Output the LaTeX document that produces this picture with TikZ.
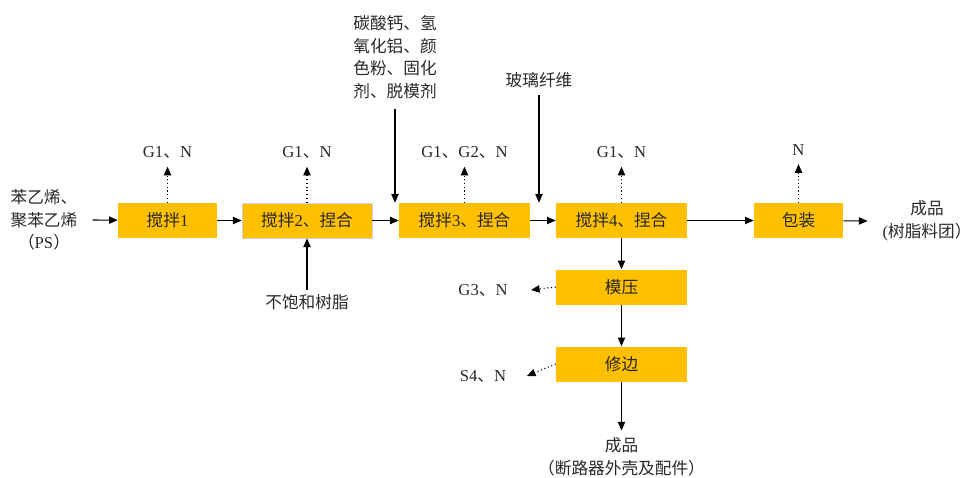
\documentclass[tikz,border=0pt]{standalone}
\usepackage{fontspec}
\setmainfont{Liberation Serif}
\newfontfamily\zhfont{Noto Sans CJK SC}
\newcommand{\zh}[1]{{\zhfont #1}}
\usetikzlibrary{arrows.meta}
\definecolor{procfill}{RGB}{255,192,0}
\definecolor{inkgray}{RGB}{40,40,40}

\begin{document}
\begin{tikzpicture}[x=0.75pt,y=-0.75pt,
    every node/.style={font=\fontsize{12.5}{17}\selectfont, text=inkgray},
    proc/.style={fill=procfill, inner sep=0pt, minimum height=26.25pt},
    flow/.style={-{Triangle[length=6.5pt,width=5.5pt]}, line width=0.8pt},
    emit/.style={flow, dotted}]
    \useasboundingbox (0,0) rectangle (972,478);

    % Process boxes
    \node[proc, minimum width=74.25pt] (stir1) at (167.5,220.5) {\zh{搅拌}1};
    \node[proc, minimum width=97.5pt, draw=gray!35, line width=0.6pt] (stir2) at (307,220.5) {\zh{搅拌}2\zh{、捏合}};
    \node[proc, minimum width=98.25pt] (stir3) at (464.5,220.5) {\zh{搅拌}3\zh{、捏合}};
    \node[proc, minimum width=98.25pt] (stir4) at (621.5,220.5) {\zh{搅拌}4\zh{、捏合}};
    \node[proc, minimum width=66.75pt] (pack) at (798.5,220.5) {\zh{包装}};
    \node[proc, minimum width=98.25pt] (mold) at (621.5,287) {\zh{模压}};
    \node[proc, minimum width=98.25pt] (trim) at (621.5,364) {\zh{修边}};

    % Inputs and outputs
    \node[align=center] (src) at (44,220) {\zh{苯乙烯、}\\\zh{聚苯乙烯}\\\zh{（}PS\zh{）}};
    \node (resin) at (307,302) {\zh{不饱和树脂}};
    \node[align=center] (additive) at (395,57) {\zh{碳酸钙、氢}\\\zh{氧化铝、颜}\\\zh{色粉、固化}\\\zh{剂、脱模剂}};
    \node (glass) at (539,80) {\zh{玻璃纤维}};
    \node[align=center, inner sep=0pt] (prod1) at (927,221) {\zh{成品}\\(\zh{树脂料团）}};
    \node[align=center] (prod2) at (621.5,457) {\zh{成品}\\\zh{（断路器外壳及配件）}};

    % Emissions
    \node (g1) at (167.5,152) {G1\zh{、}N};
    \node (g2) at (307,152) {G1\zh{、}N};
    \node (g3) at (464.5,152) {G1\zh{、}G2\zh{、}N};
    \node (g4) at (621.5,152) {G1\zh{、}N};
    \node (gp) at (798.5,150) {N};
    \node (g5) at (483,290) {G3\zh{、}N};
    \node (s4) at (483,376) {S4\zh{、}N};

    % Main flow
    \draw[flow] ([xshift=8pt]src.east) -- (stir1);
    \draw[flow] (stir1) -- (stir2);
    \draw[flow] (stir2) -- (stir3);
    \draw[flow] (stir3) -- (stir4);
    \draw[flow] (stir4) -- (pack);
    \draw[flow] (pack) -- ([xshift=-11pt]prod1.west);
    \draw[flow] (stir4) -- (mold);
    \draw[flow] (mold) -- (trim);
    \draw[flow, shorten >=2pt] (trim) -- (prod2);

    % Materials added
    \draw[flow] (resin) -- (stir2);
    \draw[flow, shorten <=4pt] (additive.south) -- (additive.south |- stir3.north);
    \draw[flow, shorten <=2pt] (glass) -- (glass |- stir4.north);

    % Dotted emission arrows
    \draw[emit, shorten >=3pt] (stir1) -- (g1);
    \draw[emit, shorten >=3pt] (stir2) -- (g2);
    \draw[emit, shorten >=3pt] (stir3) -- (g3);
    \draw[emit, shorten >=3pt] (stir4) -- (g4);
    \draw[emit, shorten >=3pt] (pack) -- (gp);
    \draw[emit] (mold.west) -- ([xshift=14pt]g5.east);
    \draw[emit] (trim.west) -- ([xshift=12pt]s4.east);
\end{tikzpicture}
\end{document}
